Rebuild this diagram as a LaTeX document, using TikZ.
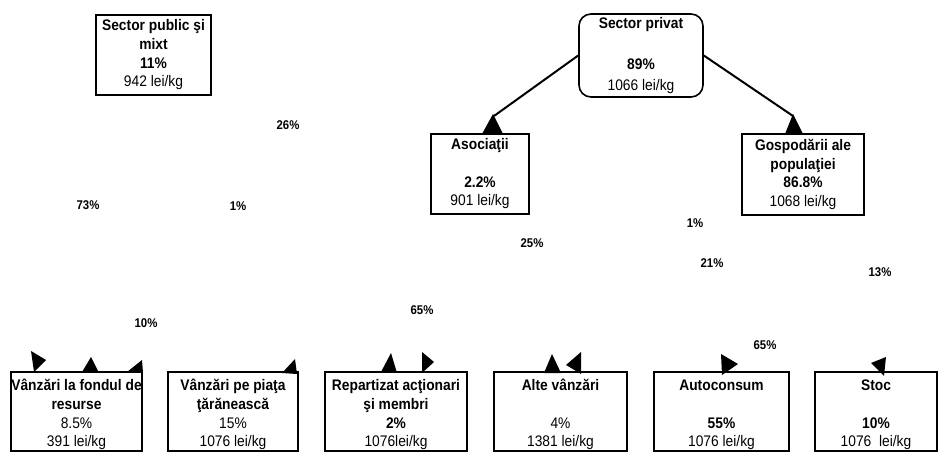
\documentclass[tikz,border=0pt]{standalone}
\usepackage{fontspec}
\setmainfont{Liberation Sans}[FakeStretch=0.9]
\usetikzlibrary{calc}

\newcommand{\lowstrut}{\rule{0pt}{13.5pt}}

\begin{document}
\begin{tikzpicture}[x=0.75pt, y=-0.75pt,
		box/.style = {draw, line width=1.2pt, inner sep=0pt, align=center, font=\fontsize{11.5}{14}\selectfont},
		pct/.style = {inner sep=0pt, font=\fontsize{9.5}{10}\selectfont\bfseries},
		link/.style = {line width=1.5pt},
		head/.style = {fill=black}]

	\useasboundingbox (0,0) rectangle (939,452);

	% upper level
	\node[box, minimum width=86.25pt, minimum height=60pt] (public) at (153.5,55)
		{\textbf{Sector public şi}\\ \textbf{mixt}\\ \textbf{11\%}\\ 942 lei/kg};
	\node[box, rounded corners=9pt, minimum width=93pt, minimum height=62.25pt,
		font=\fontsize{11.5}{15.5}\selectfont] (privat) at (641,55.5)
		{\textbf{Sector privat}\\ ~\\ \textbf{89\%}\\ 1066 lei/kg};

	\node[box, minimum width=73.5pt, minimum height=60pt] (asoc) at (480,174)
		{\textbf{Asociaţii}\\ ~\\ \textbf{2.2\%}\\ 901 lei/kg};
	\node[box, minimum width=91.5pt, minimum height=60.75pt] (gosp) at (803,174.5)
		{\textbf{Gospodării ale}\\ \textbf{populaţiei}\\ \textbf{86.8\%}\\ 1068 lei/kg};

	% destinations
	\node[box, minimum width=98.25pt, minimum height=59.25pt] (fond) at (76.5,411.5)
		{\lowstrut\textbf{Vânzări la fondul de}\\ \textbf{resurse}\\ 8.5\%\\ 391 lei/kg};
	\node[box, minimum width=97.5pt, minimum height=59.25pt] (piata) at (233,411.5)
		{\lowstrut\textbf{Vânzări pe piaţa}\\ \textbf{ţărănească}\\ 15\%\\ 1076 lei/kg};
	\node[box, minimum width=106.5pt, minimum height=59.25pt] (actionari) at (396,411.5)
		{\lowstrut\textbf{Repartizat acţionari}\\ \textbf{şi membri}\\ \textbf{2\%}\\ 1076lei/kg};
	\node[box, minimum width=99.75pt, minimum height=59.25pt] (alte) at (560.5,411.5)
		{\lowstrut\textbf{Alte vânzări}\\ ~\\ 4\%\\ 1381 lei/kg};
	\node[box, minimum width=101.25pt, minimum height=59.25pt] (autoconsum) at (721.5,411.5)
		{\lowstrut\textbf{Autoconsum}\\ ~\\ \textbf{55\%}\\ 1076 lei/kg};
	\node[box, minimum width=91.5pt, minimum height=59.25pt] (stoc) at (876,411.5)
		{\lowstrut\textbf{Stoc}\\ ~\\ \textbf{10\%}\\ 1076 \ lei/kg};

	% links from the private sector
	\coordinate (asoc tip) at (494,116);
	\coordinate (gosp tip) at (793,116);
	\draw[link] (privat.west) -- (asoc tip);
	\draw[link] (privat.east) -- (gosp tip);
	\fill[head] (493,114) -- (482,134) -- (503,134) -- cycle;
	\fill[head] (793,114) -- (785,134) -- (803,134) -- cycle;

	% arrow heads left on the lower boxes
	\fill[head] (31,351) -- (46,360) -- (34,372) -- cycle;
	\fill[head] (91,357) -- (82,372) -- (99,373) -- cycle;
	\fill[head] (142,360) -- (127,372) -- (143,373) -- cycle;
	\fill[head] (295,359) -- (282,373) -- (297,374) -- cycle;
	\fill[head] (391,353) -- (381,372) -- (397,373) -- cycle;
	\fill[head] (422,352) -- (434,362) -- (422,373) -- cycle;
	\fill[head] (552,354) -- (544,373) -- (561,373) -- cycle;
	\fill[head] (581,352) -- (566,365) -- (581,374) -- cycle;
	\fill[head] (721,354) -- (738,364) -- (722,375) -- cycle;
	\fill[head] (886,357) -- (871,363) -- (884,376) -- cycle;

	% shares
	\node[pct] (p26) at (288,125) {26\%};
	\node[pct] (p73) at (88,205) {73\%};
	\node[pct] (p1a) at (238,206) {1\%};
	\node[pct] (p10) at (146,323) {10\%};
	\node[pct] (p65a) at (422,310) {65\%};
	\node[pct] (p25) at (532,243) {25\%};
	\node[pct] (p1b) at (695,223) {1\%};
	\node[pct] (p21) at (712,263) {21\%};
	\node[pct] (p13) at (880,272) {13\%};
	\node[pct] (p65b) at (765,345) {65\%};
\end{tikzpicture}
\end{document}
